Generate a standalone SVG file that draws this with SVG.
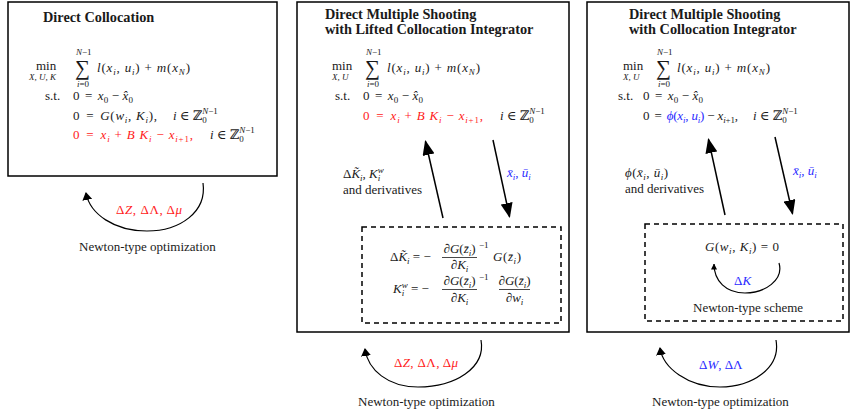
<svg xmlns="http://www.w3.org/2000/svg" width="851" height="419" viewBox="0 0 851 419">
<style>
.t{font-family:"Liberation Serif","DejaVu Serif",serif;font-size:13px;fill:#1a1a1a}
.i{font-style:italic}
.s{font-size:9px}
.h{font-weight:bold;font-size:14.3px}
.sum{font-size:21px}
.r{fill:#ff1a1a}
.bl{fill:#2a2aff}
.frame{fill:#fff;stroke:#000;stroke-width:1.5}
.dash{fill:none;stroke:#000;stroke-width:1.5;stroke-dasharray:5 4}
.ln{fill:none;stroke:#000;stroke-width:1.5}
.arc{fill:none;stroke:#000;stroke-width:1.2}
.bar{stroke:#1a1a1a;stroke-width:0.8}
</style>
<defs>
<marker id="big" viewBox="0 0 15 12" refX="13.5" refY="6" markerWidth="15" markerHeight="12" markerUnits="userSpaceOnUse" orient="auto"><path d="M0,0 L15,6 L0,12 z" fill="#000"/></marker>
<marker id="mid" viewBox="0 0 8 10" refX="7" refY="5" markerWidth="8" markerHeight="10" markerUnits="userSpaceOnUse" orient="auto"><path d="M0,0 L8,5 L0,10 z" fill="#000"/></marker>
<marker id="sml" viewBox="0 0 6 6" refX="5.5" refY="3" markerWidth="6" markerHeight="6" markerUnits="userSpaceOnUse" orient="auto"><path d="M0,0 L6,3 L0,6 z" fill="#000"/></marker>
</defs>
<rect width="851" height="419" fill="#fff"/>

<g id="panel1">
<rect class="frame" x="8" y="2" width="269" height="174"/>
<text class="t h" x="43" y="22">Direct Collocation</text>
<text class="t" x="36" y="70">min</text>
<text class="t s i" x="29" y="80">X, U, K</text>
<text class="t s" x="76" y="55"><tspan class="i">N</tspan>−1</text>
<text class="t sum" x="75" y="75">∑</text>
<text class="t s" x="77" y="87"><tspan class="i">i</tspan>=0</text>
<text class="t" x="97" y="72" textLength="93" lengthAdjust="spacing"><tspan class="i">l</tspan>(<tspan class="i">x</tspan><tspan class="s i" dy="3">i</tspan><tspan dy="-3">, </tspan><tspan class="i">u</tspan><tspan class="s i" dy="3">i</tspan><tspan dy="-3">) + </tspan><tspan class="i">m</tspan>(<tspan class="i">x</tspan><tspan class="s i" dy="3">N</tspan><tspan dy="-3">)</tspan></text>
<text class="t" x="45" y="100">s.t.</text>
<text class="t" x="73" y="100" textLength="60" lengthAdjust="spacing">0 <tspan dx="2">=</tspan> <tspan dx="2" class="i">x</tspan><tspan class="s" dy="3">0</tspan><tspan dy="-3"> − </tspan><tspan class="i">x̂</tspan><tspan class="s" dy="3">0</tspan></text>
<text class="t" x="73" y="120" textLength="84" lengthAdjust="spacing">0 <tspan dx="2">=</tspan> <tspan dx="2" class="i">G</tspan>(<tspan class="i">w</tspan><tspan class="s i" dy="3">i</tspan><tspan dy="-3">, </tspan><tspan class="i">K</tspan><tspan class="s i" dy="3">i</tspan><tspan dy="-3">),</tspan></text>
<text class="t" x="173" y="120"><tspan class="i">i</tspan> ∈ ℤ<tspan class="s" dy="3">0</tspan><tspan class="s" dx="-4.5" dy="-9"><tspan class="i">N</tspan>−1</tspan></text>
<text class="t r" x="73" y="139" textLength="120" lengthAdjust="spacing">0 <tspan dx="2">=</tspan> <tspan dx="2" class="i">x</tspan><tspan class="s i" dy="3">i</tspan><tspan dy="-3"> + </tspan><tspan class="i">B K</tspan><tspan class="s i" dy="3">i</tspan><tspan dy="-3"> − </tspan><tspan class="i">x</tspan><tspan class="s" dy="3"><tspan class="i">i</tspan>+1</tspan><tspan dy="-3">,</tspan></text>
<text class="t" x="210" y="139"><tspan class="i">i</tspan> ∈ ℤ<tspan class="s" dy="3">0</tspan><tspan class="s" dx="-4.5" dy="-9"><tspan class="i">N</tspan>−1</tspan></text>
</g>

<g id="panel2">
<rect class="frame" x="297" y="2" width="272" height="330"/>
<text class="t h" x="325" y="19">Direct Multiple Shooting</text>
<text class="t h" x="325" y="34">with Lifted Collocation Integrator</text>
<text class="t" x="332" y="70">min</text>
<text class="t s i" x="332" y="80">X, U</text>
<text class="t s" x="366" y="55"><tspan class="i">N</tspan>−1</text>
<text class="t sum" x="365" y="75">∑</text>
<text class="t s" x="367" y="87"><tspan class="i">i</tspan>=0</text>
<text class="t" x="387" y="72" textLength="93" lengthAdjust="spacing"><tspan class="i">l</tspan>(<tspan class="i">x</tspan><tspan class="s i" dy="3">i</tspan><tspan dy="-3">, </tspan><tspan class="i">u</tspan><tspan class="s i" dy="3">i</tspan><tspan dy="-3">) + </tspan><tspan class="i">m</tspan>(<tspan class="i">x</tspan><tspan class="s i" dy="3">N</tspan><tspan dy="-3">)</tspan></text>
<text class="t" x="335" y="100">s.t.</text>
<text class="t" x="363" y="100" textLength="60" lengthAdjust="spacing">0 <tspan dx="2">=</tspan> <tspan dx="2" class="i">x</tspan><tspan class="s" dy="3">0</tspan><tspan dy="-3"> − </tspan><tspan class="i">x̂</tspan><tspan class="s" dy="3">0</tspan></text>
<text class="t r" x="363" y="120" textLength="120" lengthAdjust="spacing">0 <tspan dx="2">=</tspan> <tspan dx="2" class="i">x</tspan><tspan class="s i" dy="3">i</tspan><tspan dy="-3"> + </tspan><tspan class="i">B K</tspan><tspan class="s i" dy="3">i</tspan><tspan dy="-3"> − </tspan><tspan class="i">x</tspan><tspan class="s" dy="3"><tspan class="i">i</tspan>+1</tspan><tspan dy="-3">,</tspan></text>
<text class="t" x="500" y="120"><tspan class="i">i</tspan> ∈ ℤ<tspan class="s" dy="3">0</tspan><tspan class="s" dx="-4.5" dy="-9"><tspan class="i">N</tspan>−1</tspan></text>
<text class="t" x="343" y="178">Δ<tspan class="i">K̃</tspan><tspan class="s i" dy="3">i</tspan><tspan dy="-3">, </tspan><tspan class="i">K</tspan><tspan class="s i" dy="3">i</tspan><tspan class="s i" dx="-2.5" dy="-8">w</tspan></text>
<text class="t" x="343" y="194">and derivatives</text>
<text class="t bl" x="507" y="177"><tspan class="i">x̄</tspan><tspan class="s i" dy="3">i</tspan><tspan dy="-3">, </tspan><tspan class="i">ū</tspan><tspan class="s i" dy="3">i</tspan></text>
</g>

<g id="lifted-integrator">
<rect class="dash" x="362" y="227" width="199" height="96"/>
<text class="t" x="390" y="261">Δ<tspan class="i">K̃</tspan><tspan class="s i" dy="3">i</tspan><tspan dy="-3"> = −</tspan></text>
<line class="bar" x1="442" y1="257.5" x2="477" y2="257.5"/>
<text class="t" x="459.5" y="253" text-anchor="middle">∂<tspan class="i">G</tspan>(<tspan class="i">z̄</tspan><tspan class="s i" dy="3">i</tspan><tspan dy="-3">)</tspan></text>
<text class="t" x="459.5" y="269" text-anchor="middle">∂<tspan class="i">K</tspan><tspan class="s i" dy="3">i</tspan></text>
<text class="t s" x="479" y="248">−1</text>
<text class="t" x="493" y="261" textLength="28" lengthAdjust="spacing"><tspan class="i">G</tspan>(<tspan class="i">z̄</tspan><tspan class="s i" dy="3">i</tspan><tspan dy="-3">)</tspan></text>
<text class="t" x="393" y="293"><tspan class="i">K</tspan><tspan class="s i" dy="3">i</tspan><tspan class="s i" dx="-2.5" dy="-8">w</tspan><tspan dy="5"> = −</tspan></text>
<line class="bar" x1="442" y1="289.5" x2="477" y2="289.5"/>
<text class="t" x="459.5" y="285" text-anchor="middle">∂<tspan class="i">G</tspan>(<tspan class="i">z̄</tspan><tspan class="s i" dy="3">i</tspan><tspan dy="-3">)</tspan></text>
<text class="t" x="459.5" y="302" text-anchor="middle">∂<tspan class="i">K</tspan><tspan class="s i" dy="3">i</tspan></text>
<text class="t s" x="479" y="280">−1</text>
<line class="bar" x1="499" y1="289.5" x2="530" y2="289.5"/>
<text class="t" x="514.5" y="285" text-anchor="middle">∂<tspan class="i">G</tspan>(<tspan class="i">z̄</tspan><tspan class="s i" dy="3">i</tspan><tspan dy="-3">)</tspan></text>
<text class="t" x="514.5" y="302" text-anchor="middle">∂<tspan class="i">w</tspan><tspan class="s i" dy="3">i</tspan></text>
</g>

<g id="panel3">
<rect class="frame" x="587" y="2" width="262" height="330"/>
<text class="t h" x="629" y="19">Direct Multiple Shooting</text>
<text class="t h" x="629" y="34">with Collocation Integrator</text>
<text class="t" x="623" y="70">min</text>
<text class="t s i" x="623" y="80">X, U</text>
<text class="t s" x="657" y="55"><tspan class="i">N</tspan>−1</text>
<text class="t sum" x="656" y="75">∑</text>
<text class="t s" x="658" y="87"><tspan class="i">i</tspan>=0</text>
<text class="t" x="677" y="72" textLength="93" lengthAdjust="spacing"><tspan class="i">l</tspan>(<tspan class="i">x</tspan><tspan class="s i" dy="3">i</tspan><tspan dy="-3">, </tspan><tspan class="i">u</tspan><tspan class="s i" dy="3">i</tspan><tspan dy="-3">) + </tspan><tspan class="i">m</tspan>(<tspan class="i">x</tspan><tspan class="s i" dy="3">N</tspan><tspan dy="-3">)</tspan></text>
<text class="t" x="618" y="100">s.t.</text>
<text class="t" x="643" y="100" textLength="60" lengthAdjust="spacing">0 <tspan dx="2">=</tspan> <tspan dx="2" class="i">x</tspan><tspan class="s" dy="3">0</tspan><tspan dy="-3"> − </tspan><tspan class="i">x̂</tspan><tspan class="s" dy="3">0</tspan></text>
<text class="t" x="643" y="120" textLength="95" lengthAdjust="spacing">0 <tspan dx="2">=</tspan> <tspan dx="2" class="bl"><tspan class="i">ϕ</tspan>(<tspan class="i">x</tspan><tspan class="s i" dy="3">i</tspan><tspan dy="-3">, </tspan><tspan class="i">u</tspan><tspan class="s i" dy="3">i</tspan><tspan dy="-3">)</tspan></tspan> − <tspan class="i">x</tspan><tspan class="s" dy="3"><tspan class="i">i</tspan>+1</tspan><tspan dy="-3">,</tspan></text>
<text class="t" x="753" y="120"><tspan class="i">i</tspan> ∈ ℤ<tspan class="s" dy="3">0</tspan><tspan class="s" dx="-4.5" dy="-9"><tspan class="i">N</tspan>−1</tspan></text>
<text class="t" x="625" y="177" textLength="43" lengthAdjust="spacing"><tspan class="i">ϕ</tspan>(<tspan class="i">x̄</tspan><tspan class="s i" dy="3">i</tspan><tspan dy="-3">, </tspan><tspan class="i">ū</tspan><tspan class="s i" dy="3">i</tspan><tspan dy="-3">)</tspan></text>
<text class="t" x="625" y="193">and derivatives</text>
<text class="t bl" x="793" y="175"><tspan class="i">x̄</tspan><tspan class="s i" dy="3">i</tspan><tspan dy="-3">, </tspan><tspan class="i">ū</tspan><tspan class="s i" dy="3">i</tspan></text>
</g>

<g id="newton-scheme">
<rect class="dash" x="645" y="224" width="198" height="97"/>
<text class="t" x="705" y="251" textLength="74" lengthAdjust="spacing"><tspan class="i">G</tspan>(<tspan class="i">w</tspan><tspan class="s i" dy="3">i</tspan><tspan dy="-3">, </tspan><tspan class="i">K</tspan><tspan class="s i" dy="3">i</tspan><tspan dy="-3">) = 0</tspan></text>
<text class="t bl" x="734" y="285">Δ<tspan class="i">K</tspan></text>
<text class="t" x="693" y="312">Newton-type scheme</text>
</g>

<g id="labels">
<text class="t r" x="116" y="214" textLength="66" lengthAdjust="spacing">Δ<tspan class="i">Z</tspan>, ΔΛ, Δ<tspan class="i">μ</tspan></text>
<text class="t" x="79" y="251">Newton-type optimization</text>
<text class="t r" x="394" y="367" textLength="64" lengthAdjust="spacing">Δ<tspan class="i">Z</tspan>, ΔΛ, Δ<tspan class="i">μ</tspan></text>
<text class="t" x="358" y="406">Newton-type optimization</text>
<text class="t bl" x="699" y="369">Δ<tspan class="i">W</tspan>, ΔΛ</text>
<text class="t" x="652" y="406">Newton-type optimization</text>
</g>

<g id="connectors">
<path class="ln" d="M443,218 L425.5,141.5" marker-end="url(#big)"/>
<path class="ln" d="M493,140 L509.5,216.5" marker-end="url(#big)"/>
<path class="ln" d="M725,215 L708.5,139.5" marker-end="url(#big)"/>
<path class="ln" d="M775,137 L792.5,213.5" marker-end="url(#big)"/>
<path class="arc" d="M203,183 C207,212 180,231 147,231 C114,231 90,214 86,193" marker-end="url(#mid)"/>
<path class="arc" d="M481,340 C486,368 455,387 418,387 C388,387 368,370 365,349" marker-end="url(#mid)"/>
<path class="arc" d="M776,340 C781,368 752,387 720,387 C688,387 663,368 660,348" marker-end="url(#mid)"/>
<path class="arc" d="M779,263 C784,280 765,293 745,293 C726,293 714,281 714,264" marker-end="url(#sml)"/>
</g>
</svg>
